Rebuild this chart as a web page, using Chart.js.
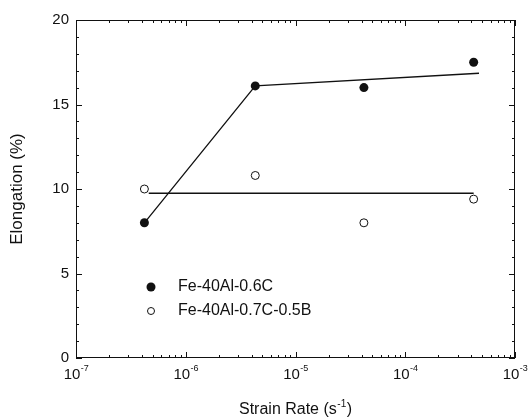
<!DOCTYPE html>
<html>
<head>
<meta charset="utf-8">
<script src="https://cdn.jsdelivr.net/npm/chart.js@4/dist/chart.umd.min.js"></script>
<style>
  body { margin: 0; background: #fff; }
  canvas { display: block; }
</style>
</head>
<body>
<canvas id="chart" width="531" height="417"></canvas>
<script>
// measured points (strain rate in 1/s, elongation in %)
const strainRate = [4.2e-7, 4.3e-6, 4.2e-5, 4.2e-4];
const elongC = [8.0, 16.1, 16.0, 17.5];      // Fe-40Al-0.6C
const elongCB = [10.0, 10.8, 8.0, 9.4];      // Fe-40Al-0.7C-0.5B

// fitted trend lines
const fitCRate = [4.2e-7, 4.3e-6, 4.7e-4];
const fitCElong = [8.0, 16.1, 16.85];
const fitCBRate = [4.6e-7, 4.2e-4];
const fitCBElong = [9.75, 9.75];

const seriesNames = ["Fe-40Al-0.6C", "Fe-40Al-0.7C-0.5B"];
const xTickExps = [-7, -6, -5, -4, -3];
const yTicks = [0, 5, 10, 15, 20];

const ink = "#111";
const FONT = "'Liberation Sans', Arial, Helvetica, sans-serif";

const toXY = (xs, ys) => xs.map((x, i) => ({ x: x, y: ys[i] }));

// frame, inward ticks, x labels, x title and legend
const framePlugin = {
  id: "frame",
  afterDraw(chart) {
    const ctx = chart.ctx;
    const a = chart.chartArea;
    const xs = chart.scales.x;
    const ys = chart.scales.y;
    ctx.save();
    ctx.strokeStyle = ink;
    ctx.lineWidth = 1;
    ctx.strokeRect(a.left + 0.5, a.top + 0.5, a.right - a.left - 1, a.bottom - a.top - 1);

    ctx.beginPath();
    // x ticks: decades long, 2..9 short
    xTickExps.forEach((e, i) => {
      const base = Math.pow(10, e);
      const px = Math.round(xs.getPixelForValue(base)) + 0.5;
      ctx.moveTo(px, a.bottom); ctx.lineTo(px, a.bottom - 6);
      ctx.moveTo(px, a.top); ctx.lineTo(px, a.top + 6);
      if (i < xTickExps.length - 1) {
        for (let m = 2; m <= 9; m++) {
          const mx = Math.round(xs.getPixelForValue(m * base)) + 0.5;
          ctx.moveTo(mx, a.bottom); ctx.lineTo(mx, a.bottom - 3);
          ctx.moveTo(mx, a.top); ctx.lineTo(mx, a.top + 3);
        }
      }
    });
    // y ticks: every 5 long, every 1 short
    for (let v = yTicks[0]; v <= yTicks[yTicks.length - 1]; v++) {
      const py = Math.round(ys.getPixelForValue(v)) + 0.5;
      const len = v % 5 === 0 ? 6 : 3;
      ctx.moveTo(a.left, py); ctx.lineTo(a.left + len, py);
      ctx.moveTo(a.right, py); ctx.lineTo(a.right - len, py);
    }
    ctx.stroke();

    // x tick labels with superscript exponents
    ctx.fillStyle = ink;
    ctx.textBaseline = "alphabetic";
    xTickExps.forEach((e) => {
      const px = xs.getPixelForValue(Math.pow(10, e));
      ctx.font = "15px " + FONT;
      const wBase = ctx.measureText("10").width;
      ctx.font = "9px " + FONT;
      const wExp = ctx.measureText(String(e)).width;
      let x0 = px - (wBase + wExp) / 2;
      ctx.textAlign = "left";
      ctx.font = "15px " + FONT;
      ctx.fillText("10", x0, a.bottom + 21);
      ctx.font = "9px " + FONT;
      ctx.fillText(String(e), x0 + wBase + 0.5, a.bottom + 13);
    });

    // x axis title
    const t1 = "Strain Rate (s", t2 = "-1", t3 = ")";
    ctx.font = "16px " + FONT;
    const w1 = ctx.measureText(t1).width, w3 = ctx.measureText(t3).width;
    ctx.font = "10px " + FONT;
    const w2 = ctx.measureText(t2).width;
    let tx = (a.left + a.right) / 2 - (w1 + w2 + w3 + 1) / 2;
    const ty = 414;
    ctx.font = "16px " + FONT;
    ctx.fillText(t1, tx, ty);
    ctx.font = "10px " + FONT;
    ctx.fillText(t2, tx + w1 + 0.5, ty - 7);
    ctx.font = "16px " + FONT;
    ctx.fillText(t3, tx + w1 + w2 + 1, ty);

    // legend
    const lx = 151, ly = [287, 311];
    ctx.beginPath();
    ctx.arc(lx, ly[0], 4.5, 0, Math.PI * 2);
    ctx.fill();
    ctx.beginPath();
    ctx.arc(lx, ly[1], 3.5, 0, Math.PI * 2);
    ctx.stroke();
    ctx.font = "16px " + FONT;
    ctx.textBaseline = "middle";
    ctx.fillText(seriesNames[0], 178, ly[0]);
    ctx.fillText(seriesNames[1], 178, ly[1]);
    ctx.restore();
  }
};

const ctx = document.getElementById("chart").getContext("2d");
new Chart(ctx, {
  type: "scatter",
  data: {
    datasets: [
      {
        label: "fit C",
        data: toXY(fitCRate, fitCElong),
        showLine: true,
        borderColor: ink,
        borderWidth: 1.3,
        pointRadius: 0,
      },
      {
        label: "fit CB",
        data: toXY(fitCBRate, fitCBElong),
        showLine: true,
        borderColor: ink,
        borderWidth: 1.3,
        pointRadius: 0,
      },
      {
        label: seriesNames[0],
        data: toXY(strainRate, elongC),
        pointRadius: 4.5,
        pointBackgroundColor: ink,
        pointBorderColor: ink,
        pointBorderWidth: 0,
      },
      {
        label: seriesNames[1],
        data: toXY(strainRate, elongCB),
        pointRadius: 4,
        pointBackgroundColor: "#fff",
        pointBorderColor: ink,
        pointBorderWidth: 1,
      },
    ],
  },
  options: {
    responsive: false,
    animation: false,
    layout: { padding: { top: 20, right: 16, left: 0, bottom: 0 } },
    plugins: { legend: { display: false }, tooltip: { enabled: false } },
    scales: {
      x: {
        type: "logarithmic",
        min: 1e-7,
        max: 1e-3,
        grid: { display: false, drawTicks: false },
        border: { display: false },
        ticks: { display: false },
        afterFit: (scale) => { scale.height = 59; },
      },
      y: {
        min: 0,
        max: 20,
        grid: { display: false, drawTicks: false },
        border: { display: false },
        ticks: {
          stepSize: 5,
          padding: 7,
          color: ink,
          font: { family: FONT, size: 15 },
        },
        title: {
          display: true,
          text: "Elongation (%)",
          color: ink,
          font: { family: FONT, size: 17 },
          padding: { top: 7, bottom: 0 },
        },
        afterFit: (scale) => { scale.width = 76; },
      },
    },
  },
  plugins: [framePlugin],
});
</script>
</body>
</html>
